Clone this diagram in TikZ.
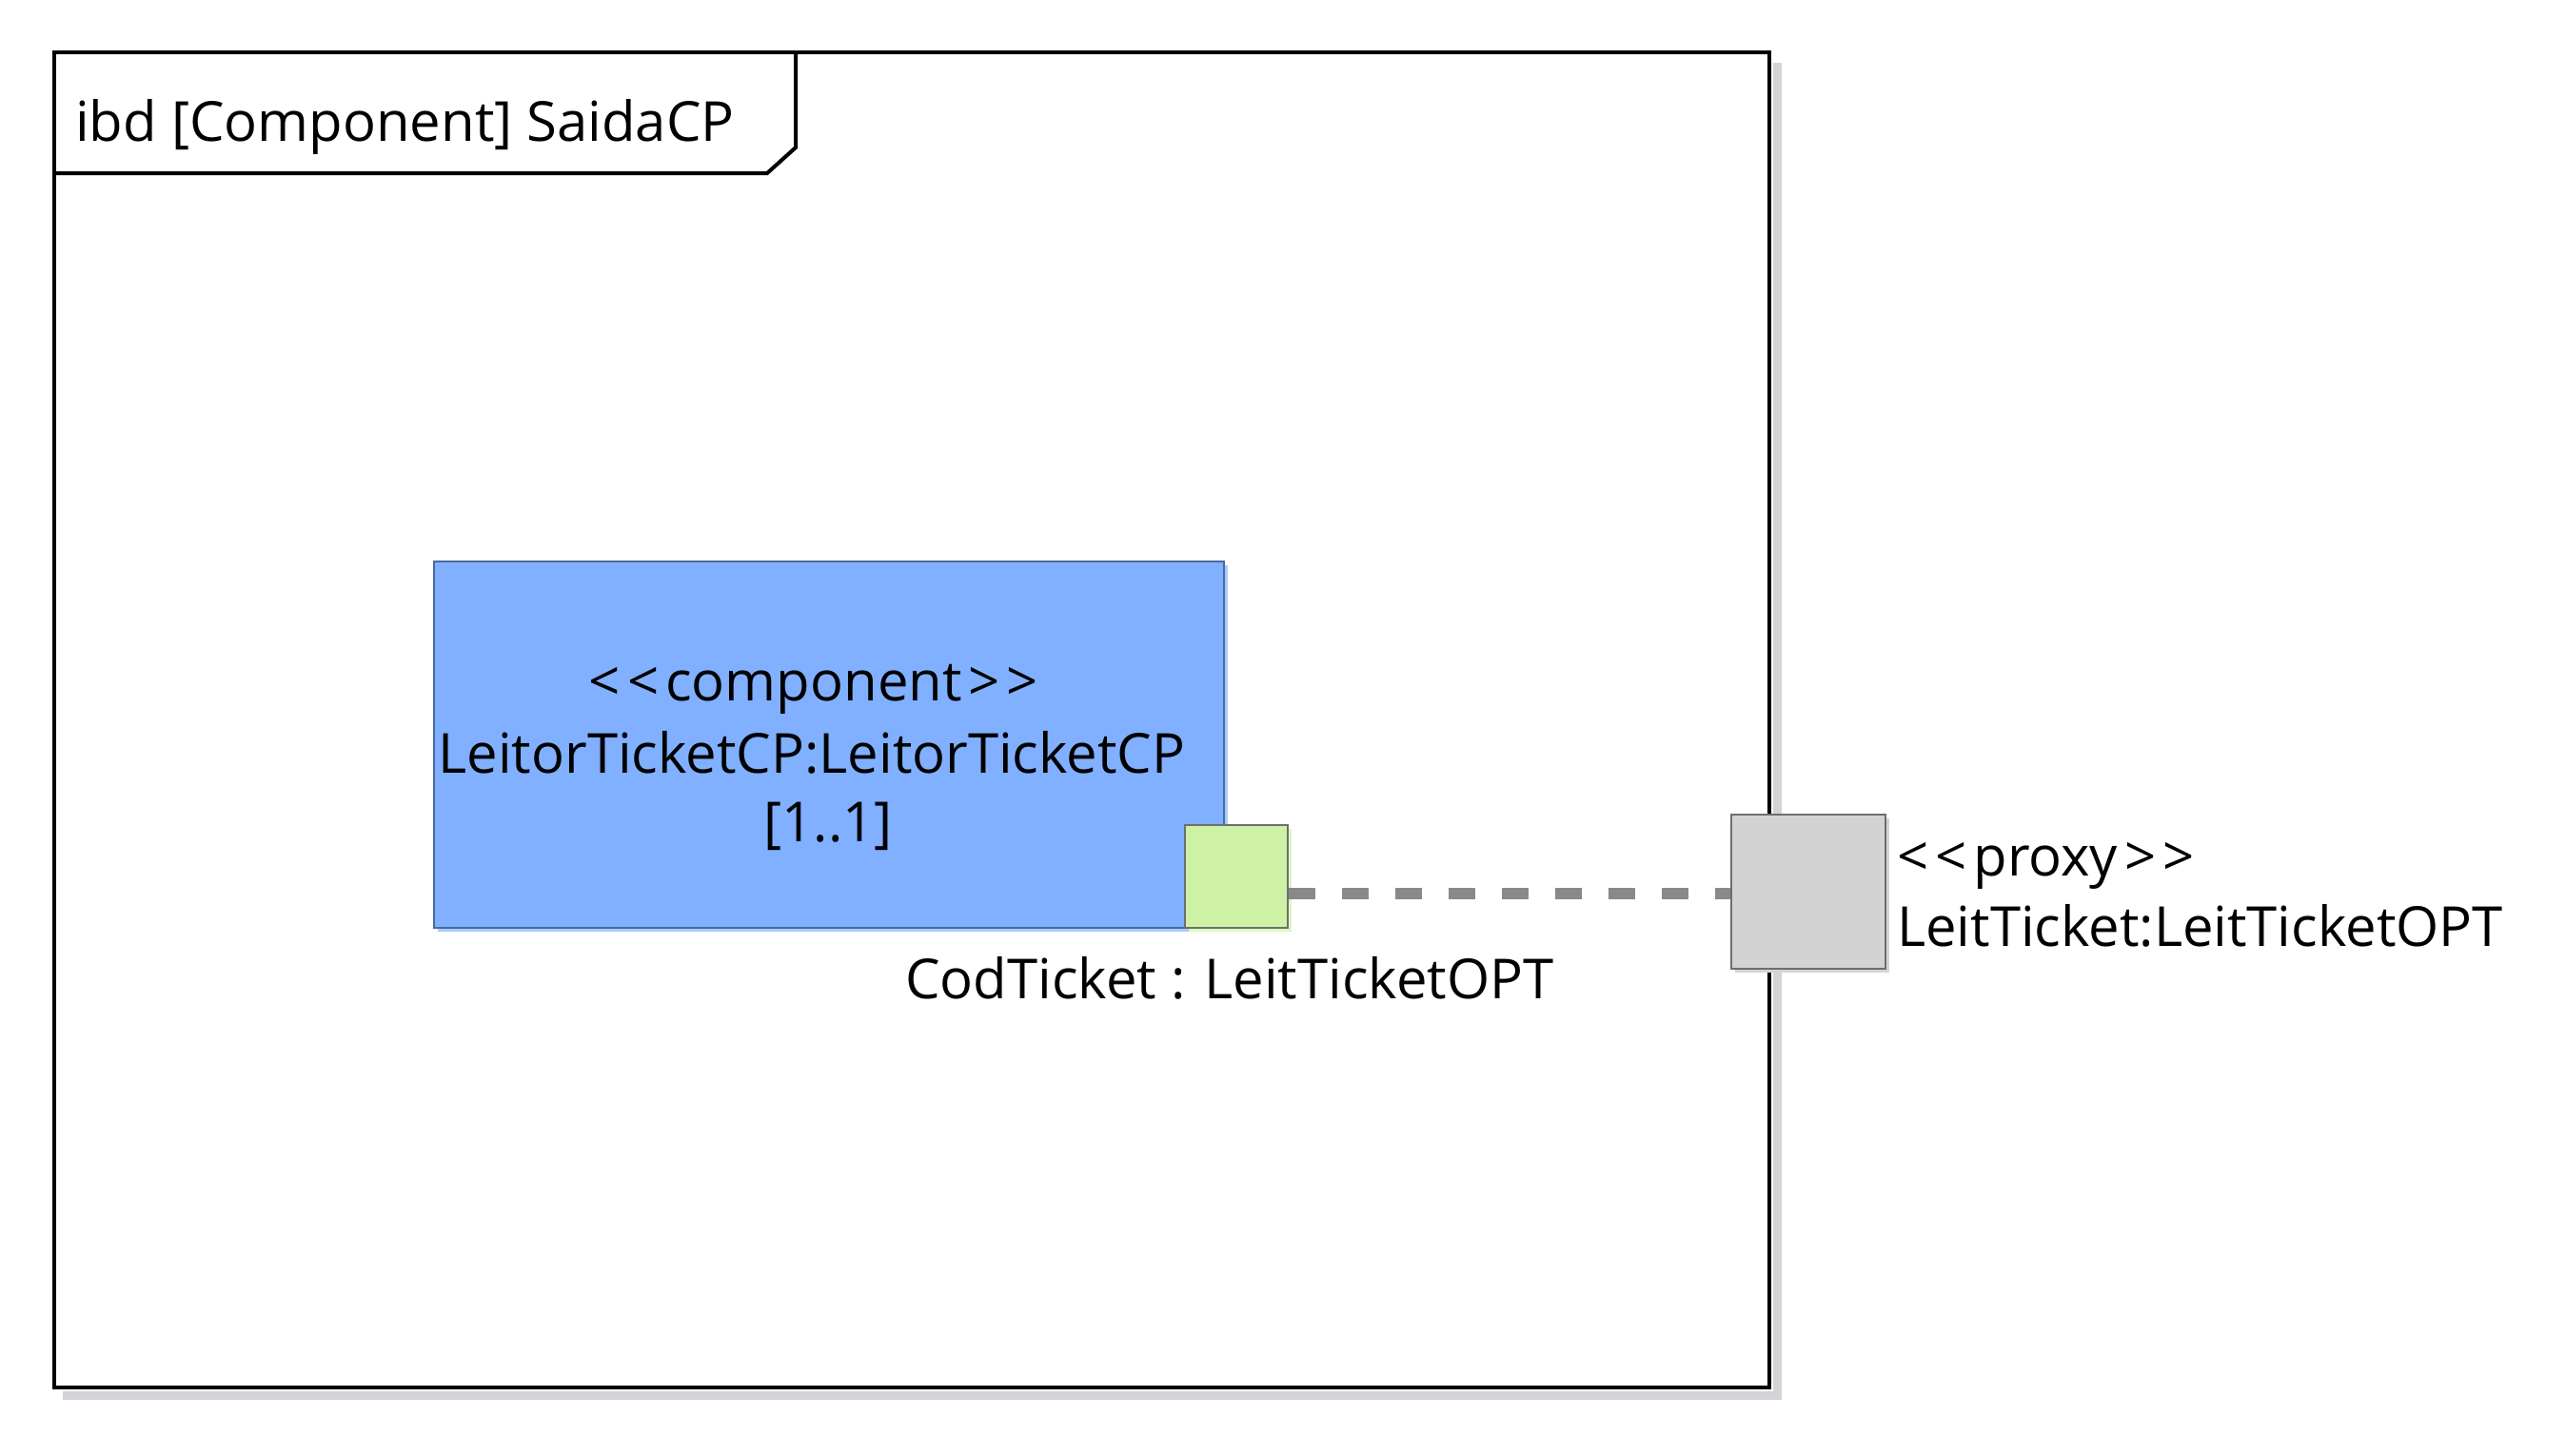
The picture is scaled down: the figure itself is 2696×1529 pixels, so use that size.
\documentclass[tikz,border=0pt]{standalone}
\usepackage{fontspec}
\setmainfont{Open Sans}
\definecolor{blueFill}{HTML}{80B0FF}
\definecolor{blueShadow}{HTML}{A9CBFF}
\definecolor{blueLine}{HTML}{4A6A9A}
\definecolor{greenFill}{HTML}{CDF2A6}
\definecolor{greenShadow}{HTML}{DDF7C4}
\definecolor{proxyFill}{HTML}{D3D3D3}
\definecolor{portLine}{HTML}{6E6E6E}
\definecolor{connGray}{HTML}{898989}
\definecolor{frameShadow}{HTML}{D4D4D8}
\newcommand{\gk}{\kern7pt}
\tikzset{
  txt/.style={font=\fontsize{58}{72}\selectfont, inner sep=0pt, text=black},
  box/.style={rectangle, inner sep=0pt, line width=2pt},
  conn/.style={draw=connGray, line width=12pt, dash pattern=on 28pt off 28pt},
}
\begin{document}
\begin{tikzpicture}[x=1pt,y=-1pt]
\useasboundingbox (0,0) rectangle (2696,1529);
\fill[white] (0,0) rectangle (2696,1529);
% frame shadow
\draw[frameShadow, line width=9pt] (1867,66) -- (1867,1466) -- (66,1466);
\node[box, draw=black, line width=4pt, fill=white, minimum width=1802pt, minimum height=1403pt] (frame) at (958,756.5) {};
\coordinate (tabL) at (57,182);
\coordinate (tabT) at (836,55);
\draw[line width=4pt, line join=miter] (tabL) -- (806,182) -- (836,155) -- (tabT);
\node[txt, anchor=base west] (title) at (79,148) {ibd [Component] SaidaCP};
% component part
\fill[blueShadow] (460,594) rectangle (1290,979);
\node[box, draw=blueLine, fill=blueFill, minimum width=830pt, minimum height=385pt] (comp) at (871,782.5) {};
\node[txt, anchor=base] (compA) at (855,736) {<\gk<\gk component\gk>\gk>};
\node[txt, anchor=base] (compB) at (853,812) {LeitorTicketCP:LeitorTicketCP};
\node[txt, anchor=base] (compC) at (870,884) {[1..1]};
% green port
\fill[greenShadow] (1249,871) rectangle (1357,979);
\node[box, draw=portLine, fill=greenFill, minimum width=108pt, minimum height=108pt] (port) at (1299,921) {};
\node[txt, anchor=base west] (portLabel) at (951,1049) {CodTicket : LeitTicketOPT};
% proxy port
\fill[frameShadow] (1823,860) rectangle (1985,1022);
\node[box, draw=portLine, fill=proxyFill, minimum width=162pt, minimum height=162pt] (proxy) at (1900,937) {};
\node[txt, anchor=base west] (proxyA) at (1993,920) {<\gk<\gk proxy\gk>\gk>};
\node[txt, anchor=base west] (proxyB) at (1993,994) {LeitTicket:LeitTicketOPT};
% connector
\draw[conn] (port.east |- 0,939) -- (proxy.west |- 0,939);
\end{tikzpicture}
\end{document}
